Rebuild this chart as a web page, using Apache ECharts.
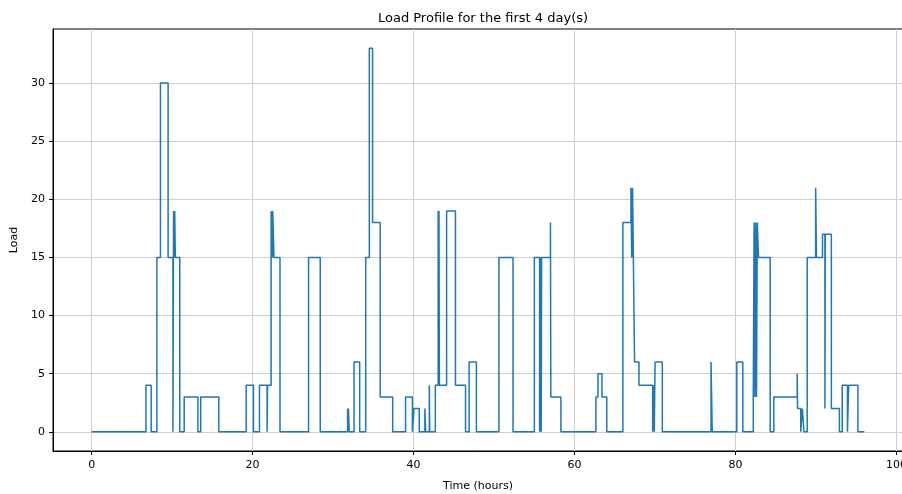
<!DOCTYPE html>
<html>
<head>
<meta charset="utf-8">
<script src="https://cdn.jsdelivr.net/npm/echarts@6/dist/echarts.min.js"></script>
<style>html,body{margin:0;padding:0;background:#fff}#c{width:902px;height:494px}</style>
</head>
<body>
<div id="c"></div>
<script>
// Time (hours) at which the load changes, and the load held from that time on
const times = [0, 6.75, 7.4, 8.1, 8.55, 9.5, 10.1, 10.18, 10.27, 10.32, 10.4, 10.95, 11.5, 13.2, 13.55, 15.8,
  19.2, 20.1, 20.85, 21.8, 21.85, 22.3, 22.45, 22.5, 22.65, 23.4, 26.95, 28.4, 31.8, 31.85, 31.9, 32.0,
  32.6, 33.3, 34.05, 34.5, 34.9, 35.85, 37.4, 39.0, 39.85, 40.05, 40.7, 41.4, 41.5, 41.95, 42.0, 42.7,
  43.05, 43.1, 43.15, 43.2, 44.1, 45.2, 46.45, 46.9, 47.8, 50.6, 52.35, 55.0, 55.65, 55.7, 55.75, 55.8,
  55.85, 55.9, 57.0, 57.05, 58.3, 62.65, 62.9, 63.4, 64.0, 66.0, 67.0, 67.1, 67.2, 67.3, 67.45, 68.0,
  69.7, 69.8, 69.9, 70.0, 70.9, 76.95, 77.1, 80.15, 80.9, 82.2, 82.3, 82.4, 82.5, 82.6, 82.7, 82.85,
  84.3, 84.75, 87.65, 87.7, 88.1, 88.3, 88.5, 88.9, 89.95, 90.05, 90.8, 91.1, 91.15, 91.9, 92.9, 93.25,
  93.9, 94.05, 95.2, 96.0];
const loads = [0, 4, 0, 15, 30, 15, 0, 19, 15, 19, 15, 0, 3, 0, 3, 0,
  4, 0, 4, 0, 4, 19, 15, 19, 15, 0, 15, 0, 2, 0, 2, 0,
  6, 0, 15, 33, 18, 3, 0, 3, 0, 2, 0, 2, 0, 4, 0, 4,
  19, 4, 19, 4, 19, 4, 0, 6, 0, 15, 0, 15, 0, 15, 0, 15,
  0, 15, 18, 3, 0, 3, 5, 3, 0, 18, 21, 15, 21, 15, 6, 4,
  0, 4, 0, 6, 0, 6, 0, 6, 0, 3, 18, 3, 18, 3, 18, 15,
  0, 3, 5, 2, 0, 2, 0, 15, 21, 15, 17, 2, 17, 2, 0, 4,
  0, 4, 0, 0];
const xTicks = [0, 20, 40, 60, 80, 100];
const yTicks = [0, 5, 10, 15, 20, 25, 30];

const data = times.map((t, i) => [t, loads[i]]);
const font = 'DejaVu Sans';
const chart = echarts.init(document.getElementById('c'), null, {renderer: 'canvas'});
chart.setOption({
  animation: false,
  title: {
    text: 'Load Profile for the first 4 day(s)',
    left: 478, top: 7, textAlign: 'center',
    textStyle: {fontFamily: font, fontSize: 13, fontWeight: 'normal', color: '#000'}
  },
  grid: {left: 53, right: -1, top: 29, bottom: 43, outerBoundsMode: 'none', containLabel: false,
    show: true, borderColor: '#000', borderWidth: 1, backgroundColor: 'transparent'},
  xAxis: {
    type: 'value', min: -4.8, max: 100.8,
    name: 'Time (hours)', nameLocation: 'middle', nameGap: 30,
    nameTextStyle: {fontFamily: font, fontSize: 11, color: '#000'},
    axisLine: {show: true, onZero: false, lineStyle: {color: '#000', width: 1}},
    axisTick: {show: true, length: 4, customValues: xTicks, lineStyle: {color: '#000'}},
    axisLabel: {customValues: xTicks, fontFamily: font, fontSize: 11, color: '#000', margin: 9},
    splitLine: {show: true, lineStyle: {color: '#cfcfcf', width: 1}}
  },
  yAxis: {
    type: 'value', min: -1.65, max: 34.65,
    name: 'Load', nameLocation: 'middle', nameGap: 30,
    nameTextStyle: {fontFamily: font, fontSize: 11, color: '#000'},
    axisLine: {show: true, onZero: false, lineStyle: {color: '#000', width: 1}},
    axisTick: {show: true, length: 4, customValues: yTicks, lineStyle: {color: '#000'}},
    axisLabel: {customValues: yTicks, fontFamily: font, fontSize: 11, color: '#000', margin: 8},
    splitLine: {show: true, lineStyle: {color: '#cfcfcf', width: 1}}
  },
  series: [{
    type: 'line', step: 'end', data: data, showSymbol: false, symbol: 'none',
    lineStyle: {color: '#1f77b4', width: 1.5}
  }]
});
</script>
</body>
</html>
